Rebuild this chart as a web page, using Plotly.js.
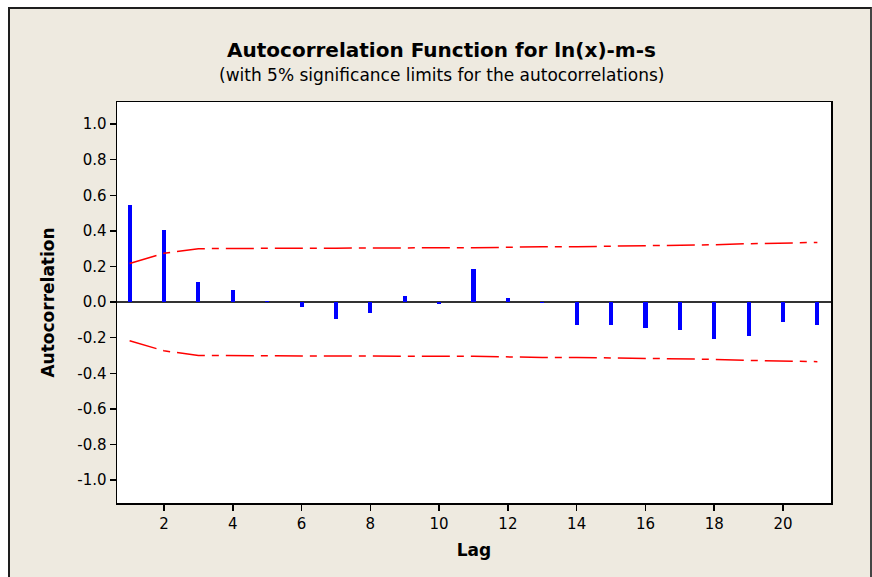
<!DOCTYPE html>
<html>
<head>
<meta charset="utf-8">
<script src="https://cdn.plot.ly/plotly-3.0.1.min.js"></script>
<style>
  html, body { margin: 0; padding: 0; background: #ffffff; }
  #frame { position: absolute; left: 8px; top: 7px; width: 860px; height: 570px;
           border: 2px solid #1e1e1e; border-bottom: none; border-right-color: #444; }
  #chart { width: 860px; height: 570px; }
</style>
</head>
<body>
<div id="frame"><div id="chart"></div></div>
<script>
// Lags
const lags = [1,2,3,4,5,6,7,8,9,10,11,12,13,14,15,16,17,18,19,20,21];
// Autocorrelation values
const acf = [0.543,0.403,0.115,0.066,0.008,-0.027,-0.094,-0.062,0.032,-0.013,0.184,
             0.024,-0.006,-0.127,-0.127,-0.144,-0.155,-0.206,-0.189,-0.112,-0.127];
// 5% significance limits
const upperLimit = [0.217,0.274,0.300,0.302,0.303,0.303,0.303,0.305,0.305,0.305,0.305,
                    0.310,0.311,0.311,0.313,0.315,0.319,0.322,0.328,0.333,0.335];
const lowerLimit = [-0.217,-0.274,-0.300,-0.302,-0.303,-0.303,-0.303,-0.305,-0.305,-0.305,-0.305,
                    -0.310,-0.311,-0.311,-0.313,-0.315,-0.319,-0.322,-0.328,-0.333,-0.335];
const yTicks = [-1.0,-0.8,-0.6,-0.4,-0.2,0.0,0.2,0.4,0.6,0.8,1.0];
const xTicks = [2,4,6,8,10,12,14,16,18,20];

const FONT = "'DejaVu Sans', sans-serif";

const traces = [
  { type: 'bar', x: lags, y: acf, width: 0.12,
    marker: { color: '#0000ff', line: { width: 0 } }, hoverinfo: 'x+y', showlegend: false },
  { type: 'scatter', mode: 'lines', x: lags, y: upperLimit,
    line: { color: '#ff0000', width: 1.5, dash: '28px,7px,7px,7px' }, showlegend: false },
  { type: 'scatter', mode: 'lines', x: lags, y: lowerLimit,
    line: { color: '#ff0000', width: 1.5, dash: '28px,7px,7px,7px' }, showlegend: false }
];

const layout = {
  width: 860, height: 570,
  paper_bgcolor: '#eeeae0', plot_bgcolor: '#ffffff',
  margin: { l: 107, r: 39, t: 93, b: 76 },
  font: { family: FONT, color: '#000000', size: 15 },
  title: { text: '<b>Autocorrelation Function for ln(x)-m-s</b>',
           font: { family: FONT, size: 20, color: '#000' },
           xref: 'container', x: 0.5017, xanchor: 'center',
           yref: 'container', y: 0.928, yanchor: 'middle' },
  annotations: [{
    text: '(with 5% significance limits for the autocorrelations)',
    xref: 'paper', yref: 'paper', x: 0.4545, y: 1.0673,
    xanchor: 'center', yanchor: 'middle', showarrow: false,
    font: { family: FONT, size: 17, color: '#000' }
  }],
  xaxis: {
    range: [0.633, 21.396], tickvals: xTicks, ticktext: xTicks.map(String),
    ticks: 'outside', ticklen: 6, tickwidth: 1.5, tickcolor: '#000',
    showline: true, linecolor: '#000', linewidth: 1.5, mirror: true,
    showgrid: false, zeroline: false,
    tickfont: { family: FONT, size: 15, color: '#000' },
    title: { text: '<b>Lag</b>', font: { family: FONT, size: 17, color: '#000' }, standoff: 12 }
  },
  yaxis: {
    range: [-1.129, 1.124], tickvals: yTicks, ticktext: yTicks.map(v => v.toFixed(1)),
    ticks: 'outside', ticklen: 6, tickwidth: 1.5, tickcolor: '#000',
    showline: true, linecolor: '#000', linewidth: 1.5, mirror: true,
    showgrid: false, zeroline: true, zerolinecolor: '#333333', zerolinewidth: 1.5,
    tickfont: { family: FONT, size: 15, color: '#000' },
    title: { text: '<b>Autocorrelation</b>', font: { family: FONT, size: 17, color: '#000' }, standoff: 18 }
  },
  bargap: 0
};

Plotly.newPlot('chart', traces, layout, { displayModeBar: false, staticPlot: true });
</script>
</body>
</html>
